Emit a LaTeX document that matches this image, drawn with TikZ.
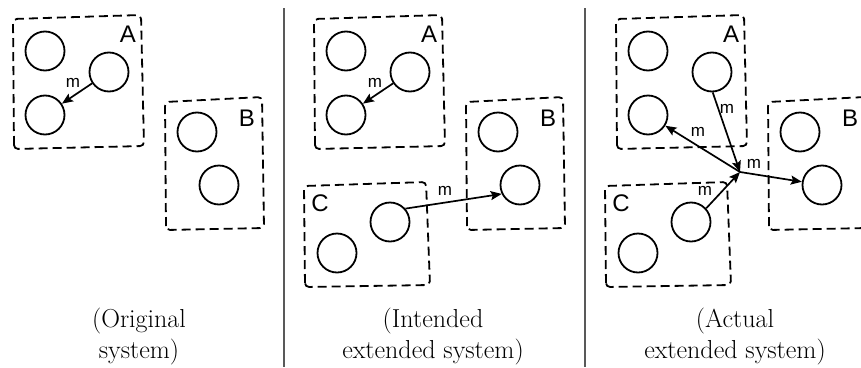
\documentclass[tikz,border=0pt]{standalone}
\usepackage{fontspec}
\newfontfamily\labfont{Liberation Sans}
\usetikzlibrary{arrows.meta}
\tikzset{
  circ/.style={circle,draw,line width=1.8pt,minimum size=39pt,inner sep=0pt},
  dbox/.style={draw,line width=1.8pt,dash pattern=on 9pt off 5pt,rounded corners=4pt},
  biglab/.style={font=\labfont\fontsize{24}{24}\selectfont,inner sep=0pt},
  msglab/.style={font=\labfont\fontsize{17}{17}\selectfont,inner sep=0pt},
  arr/.style={line width=1.7pt,-{Stealth[length=11pt,width=9pt,inset=2pt]}},
  captext/.style={font=\fontsize{26}{31}\selectfont,inner sep=0pt,anchor=base},
  sepline/.style={line width=1.1pt,black!65}
}
\newcommand\panelAB[1]{%
  \draw[dbox] (14,149) -- (13,19) -- (141,15) -- (144,146) -- cycle;
  \node[circ] (#1a1) at (45,51) {};
  \node[circ] (#1a2) at (109,72) {};
  \node[circ] (#1a3) at (45,115) {};
  \node[biglab] (#1la) at (128,34) {A};
  \draw[dbox] (166,230) -- (165,102) -- (262,97) -- (264,228) -- cycle;
  \node[circ] (#1b1) at (197,132) {};
  \node[circ] (#1b2) at (219,185) {};
  \node[biglab] (#1lb) at (247,118) {B};
}
\newcommand\panelC[1]{%
  \draw[dbox] (4,287) -- (3,186) -- (125,182) -- (129,285) -- cycle;
  \node[circ] (#1c1) at (36,253) {};
  \node[circ] (#1c2) at (89,222) {};
  \node[biglab] (#1lc) at (19,203) {C};
}
\begin{document}
\begin{tikzpicture}[x=1pt,y=-1pt]
\useasboundingbox (0,0) rectangle (861,367);
\clip (0,0) rectangle (861,367);

% separators
\draw[sepline] (284,8) -- (284,367);
\draw[sepline] (585,8) -- (585,367);

% panel 1
\begin{scope}
  \panelAB{p1}
\end{scope}
\draw[arr] (p1a2) -- (p1a3);
\node[msglab] (p1m) at (73,83) {m};

% panel 2
\begin{scope}[xshift=301]
  \panelAB{p2}
  \panelC{p2}
\end{scope}
\draw[arr] (p2a2) -- (p2a3);
\node[msglab] (p2m1) at (375,83) {m};
\draw[arr] (p2c2.41) -- (p2b2.206);
\node[msglab] (p2m2) at (445,191) {m};

% panel 3
\begin{scope}[xshift=603]
  \panelAB{p3}
\end{scope}
\begin{scope}[xshift=602]
  \panelC{p3}
\end{scope}
\coordinate (hub) at (740,172);
\draw[arr] (p3a2.-88) -- (hub);
\draw[arr] (p3c2.42) -- (hub);
\draw[arr] (hub) -- (p3a3);
\draw[arr] (hub) -- (p3b2);
\node[msglab] (p3m1) at (727,109) {m};
\node[msglab] (p3m2) at (698,132) {m};
\node[msglab] (p3m3) at (754,164) {m};
\node[msglab] (p3m4) at (705,191) {m};

% captions
\node[captext] (cap1a) at (139,327.5) {(Original};
\node[captext] (cap1b) at (139,358) {system)};
\node[captext] (cap2a) at (433,327.5) {(Intended};
\node[captext] (cap2b) at (433,358) {extended system)};
\node[captext] (cap3a) at (735,327.5) {(Actual};
\node[captext] (cap3b) at (735,358) {extended system)};
\end{tikzpicture}
\end{document}
